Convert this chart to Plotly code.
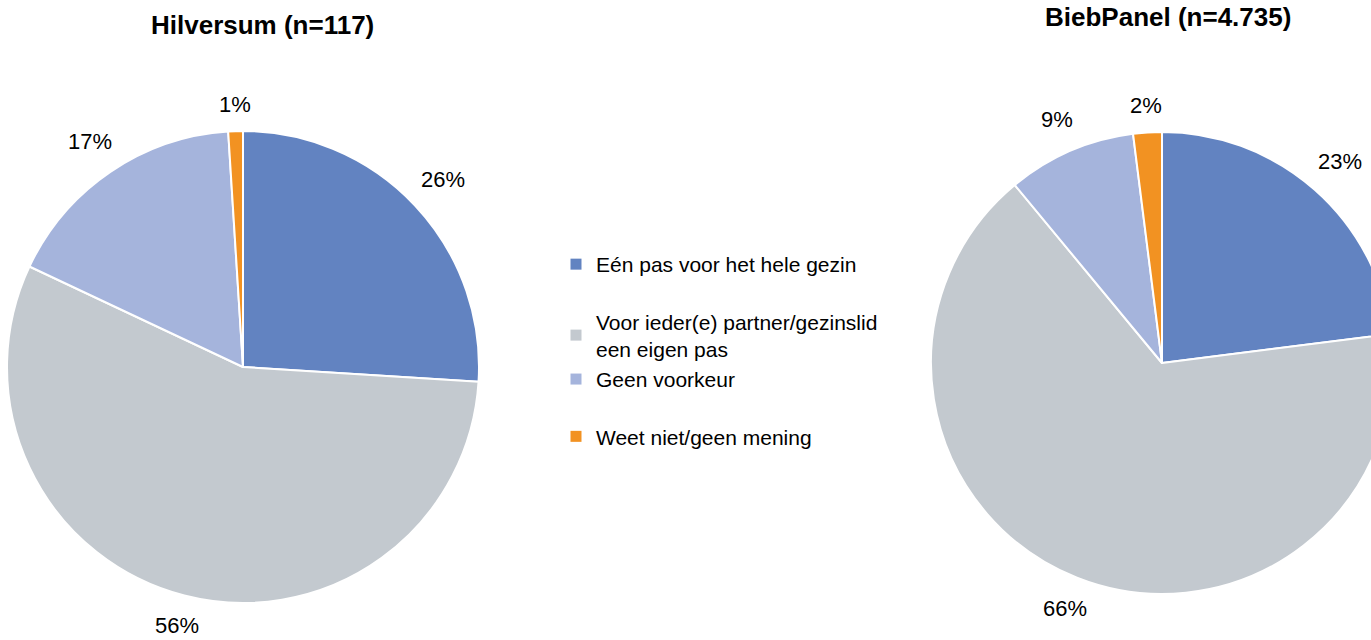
import math
import plotly.graph_objects as go

# ---- data ----
categories = [
    "Eén pas voor het hele gezin",
    "Voor ieder(e) partner/gezinslid<br>een eigen pas",
    "Geen voorkeur",
    "Weet niet/geen mening",
]
hilversum_values = [26, 56, 17, 1]
biebpanel_values = [23, 66, 9, 2]
titles = ["Hilversum (n=117)", "BiebPanel (n=4.735)"]
colors = ["#6283C1", "#C3C9CF", "#A5B4DC", "#F29222"]

# ---- layout constants (pixels) ----
W, H = 1400, 640
FONT = "Liberation Sans, Arial, sans-serif"
LABEL_SIZE = 22
pies = [
    dict(values=hilversum_values, cx=243, cy=367, R=236, title=titles[0], tx=262, ty=25),
    dict(values=biebpanel_values, cx=1162, cy=363, R=231, title=titles[1], tx=1168, ty=17),
]
GAP = 15          # distance from pie edge to label box
HALF_W, HALF_H = 22, 11   # approximate half size of a label box

fig = go.Figure()
annotations = []
for p in pies:
    cx, cy, R = p["cx"], p["cy"], p["R"]
    fig.add_trace(go.Pie(
        labels=categories,
        values=p["values"],
        sort=False,
        direction="clockwise",
        rotation=0,
        marker=dict(colors=colors, line=dict(color="white", width=2)),
        textinfo="none",
        hoverinfo="label+percent",
        showlegend=False,
        domain=dict(x=[(cx - R) / W, (cx + R) / W],
                    y=[(H - cy - R) / H, (H - cy + R) / H]),
    ))
    total = sum(p["values"])
    cum = 0
    for v in p["values"]:
        mid = (cum + v / 2) / total
        cum += v
        th = 2 * math.pi * mid
        s, c = math.sin(th), math.cos(th)
        r = R + GAP + abs(s) * HALF_W + abs(c) * HALF_H
        px = cx + r * s
        py = cy - r * c
        annotations.append(dict(
            x=px / W, y=1 - py / H, xref="paper", yref="paper",
            text=f"{round(100 * v / total)}%", showarrow=False,
            xanchor="center", yanchor="middle",
            font=dict(family=FONT, size=LABEL_SIZE, color="#000000"),
        ))
    annotations.append(dict(
        x=p["tx"] / W, y=1 - p["ty"] / H, xref="paper", yref="paper",
        text=f"<b>{p['title']}</b>", showarrow=False,
        xanchor="center", yanchor="middle",
        font=dict(family=FONT, size=26, color="#000000"),
    ))

# legend entries (groups used to control vertical spacing)
groups = ["g0", "g1", "g1", "g2"]
for cat, col, grp in zip(categories, colors, groups):
    fig.add_trace(go.Scatter(
        x=[None], y=[None], mode="markers", name=cat,
        marker=dict(symbol="square", size=11, color=col),
        legendgroup=grp, showlegend=True, hoverinfo="skip",
    ))

fig.update_layout(
    width=W, height=H,
    margin=dict(l=0, r=0, t=0, b=0),
    paper_bgcolor="white", plot_bgcolor="white",
    xaxis=dict(visible=False), yaxis=dict(visible=False),
    annotations=annotations,
    font=dict(family=FONT, color="#000000"),
    legend=dict(
        x=(596 - 40) / W, xanchor="left",
        y=1 - 244 / H, yanchor="top",
        traceorder="grouped", tracegroupgap=27,
        font=dict(family=FONT, size=21, color="#000000"),
        bgcolor="rgba(0,0,0,0)",
    ),
)

fig.write_html(
    "out.html",
    config={"displayModeBar": False},
    post_script="document.body.style.margin='0';document.body.style.overflow='hidden';",
)
